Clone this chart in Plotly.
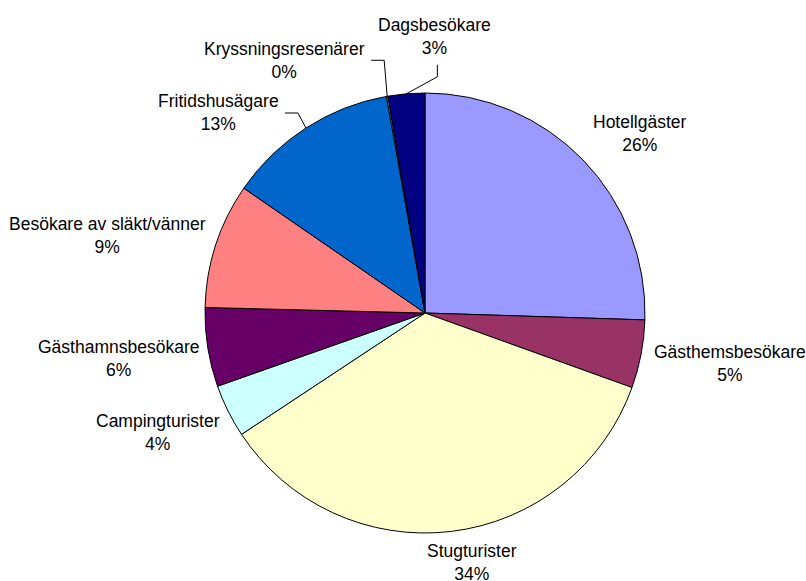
import math
import plotly.graph_objects as go

# ---- data ----
categories = ["Hotellgäster", "Gästhemsbesökare", "Stugturister", "Campingturister",
              "Gästhamnsbesökare", "Besökare av släkt/vänner", "Fritidshusägare",
              "Kryssningsresenärer", "Dagsbesökare"]
shares = [25.5, 5.0, 35.2, 3.9, 5.8, 9.2, 12.6, 0.1, 2.7]
percent_labels = ["26%", "5%", "34%", "4%", "6%", "9%", "13%", "0%", "3%"]
slice_colors = ["#9999FF", "#993366", "#FFFFCC", "#CCFFFF", "#660066",
                "#FF8080", "#0066CC", "#CCCCFF", "#000080"]

# ---- layout geometry (pixels) ----
W, H = 806, 581
cx, cy, R = 425, 313, 220
gap = 10
FONT = dict(family="Liberation Sans, Arial, sans-serif", size=17.5, color="black")

# small nudges for label placement (pixels), like Excel's own adjustments
nudges = {
    "Hotellgäster": (1, 4),
    "Gästhemsbesökare": (1, 7),
    "Stugturister": (20, -2),
    "Campingturister": (3, 17),
    "Gästhamnsbesökare": (3, 10),
    "Besökare av släkt/vänner": (2, -6),
}
# labels moved away with a leader line: offset of label anchor from the slice edge point
leaders = {
    "Fritidshusägare": ("side", (-25, -15)),
    "Kryssningsresenärer": ("side", (-20, -36)),
    "Dagsbesökare": ("bottom", (28, -34)),
}


def px(x):
    return x / W


def py(y):
    return 1 - y / H


total = sum(shares)
annotations = []
shapes = []
cum = 0.0
for name, v, pct in zip(categories, shares, percent_labels):
    mid = 2 * math.pi * (cum + v / 2) / total
    cum += v
    sx, sy = math.sin(mid), -math.cos(mid)
    ex, ey = cx + R * sx, cy + R * sy
    text = f"{name}<br>{pct}"
    if name in leaders:
        style, (ox, oy) = leaders[name]
        ax, ay = ex + ox, ey + oy
        if style == "side":
            xa, ya = "right", "middle"
            p = (ax + 4, ay)
            q = (p[0] + 13, p[1])
        else:
            xa, ya = "center", "bottom"
            p = (ax + 3, ay + 5)
            q = (p[0], p[1] + 12)
        for (x0, y0), (x1, y1) in [((ex, ey), q), (q, p)]:
            shapes.append(dict(type="line", xref="paper", yref="paper",
                               x0=px(x0), y0=py(y0), x1=px(x1), y1=py(y1),
                               line=dict(color="black", width=1)))
    else:
        ax, ay = cx + (R + gap) * sx, cy + (R + gap) * sy
        xa = "left" if sx > 0.3 else ("right" if sx < -0.3 else "center")
        ya = "bottom" if sy < -0.5 else ("top" if sy > 0.5 else "middle")
        dx, dy = nudges.get(name, (0, 0))
        ax, ay = ax + dx, ay + dy
    annotations.append(dict(text=text, x=px(ax), y=py(ay), xref="paper", yref="paper",
                            xanchor=xa, yanchor=ya, showarrow=False, align="center",
                            font=FONT))

fig = go.Figure(go.Pie(
    labels=categories,
    values=shares,
    sort=False,
    direction="clockwise",
    rotation=0,
    textinfo="none",
    hoverinfo="skip",
    marker=dict(colors=slice_colors, line=dict(color="black", width=1)),
    domain=dict(x=[px(cx - R), px(cx + R)], y=[py(cy + R), py(cy - R)]),
    showlegend=False,
))

fig.update_layout(
    width=W, height=H,
    margin=dict(l=0, r=0, t=0, b=0),
    paper_bgcolor="white",
    plot_bgcolor="white",
    annotations=annotations,
    shapes=shapes,
    font=FONT,
)

fig.write_html(
    "out.html",
    config={"displayModeBar": False},
    post_script="document.body.style.margin='0';document.body.style.overflow='hidden';",
)
